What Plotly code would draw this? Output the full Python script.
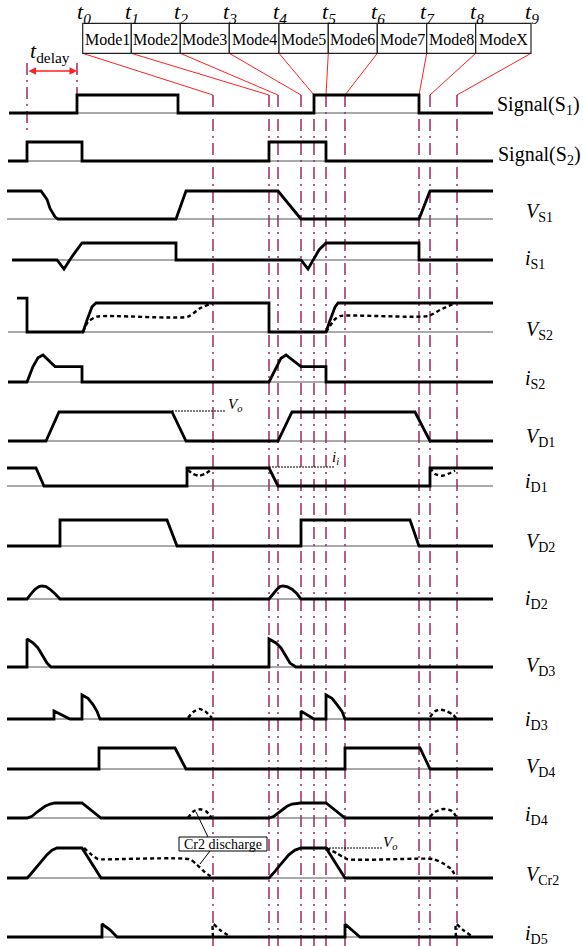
import plotly.graph_objects as go

# ---------------- data ----------------
t_marks = [213, 269, 278, 301, 314, 326, 345, 419, 430, 457]   # t0 ... t9 on the waveform time axis
t_names = ["0", "1", "2", "3", "4", "5", "6", "7", "8", "9"]
mode_names = ["Mode1", "Mode2", "Mode3", "Mode4", "Mode5", "Mode6", "Mode7", "Mode8", "ModeX"]
t_delay = [27, 77]

s1_t = [9, 77, 77, 178, 178, 314, 314, 419, 419, 493]
s1_v = [0, 0, 1, 1, 0, 0, 1, 1, 0, 0]
s2_t = [8, 27, 27, 82, 82, 269, 269, 326, 326, 493]
s2_v = [0, 0, 1, 1, 0, 0, 1, 1, 0, 0]
vs1_t = [7, 41, 47, 50, 55, 58, 176, 186, 278, 301, 419, 430, 493]
vs1_v = [1, 1, 0.7, 0.38, 0.08, 0, 0, 1, 1, 0, 0, 1, 1]
is1_t = [12, 57, 64, 72, 82, 176, 176, 301, 308, 319, 326, 419, 419, 493]
is1_v = [0, 0, -0.53, 0.2, 1, 1, 0, 0, -0.53, 0.59, 1, 1, 0, 0]
vs2_t = [17, 27, 27, 83, 87, 92, 96, 269, 269, 326, 330, 335, 338, 493]
vs2_v = [1.17, 1.17, 0, 0, 0.41, 0.87, 1, 1, 0, 0, 0.4, 0.86, 1, 1]
vs2_d1_t = [83, 88, 97, 188, 200, 213]
vs2_d1_v = [0, 0.35, 0.53, 0.53, 0.82, 1]
vs2_d2_t = [326, 335, 340, 428, 440, 455]
vs2_d2_v = [0, 0.44, 0.55, 0.55, 0.76, 1]
is2_t = [8, 27, 33, 38, 43, 48, 55, 82, 82, 269, 277, 281, 286, 295, 301, 326, 326, 493]
is2_v = [0, 0, 0.57, 0.9, 1, 0.81, 0.57, 0.57, 0, 0, 0.57, 0.88, 1, 0.75, 0.57, 0.57, 0, 0]
vd1_t = [8, 46, 59, 172, 186, 278, 292, 415, 430, 493]
vd1_v = [0, 0, 1, 1, 0, 0, 1, 1, 0, 0]
id1_t = [7, 36, 44, 187, 187, 269, 278, 430, 430, 493]
id1_v = [1, 1, 0, 0, 1, 1, 0, 0, 1, 1]
id1_d1_t = [188, 193, 199, 205, 212]
id1_d1_v = [0.89, 0.67, 0.57, 0.67, 0.94]
id1_d2_t = [430, 435, 442, 448, 455]
id1_d2_v = [1, 0.67, 0.57, 0.67, 0.85]
vd2_t = [7, 60, 60, 167, 177, 301, 301, 410, 419, 493]
vd2_v = [0, 0, 1, 1, 0, 0, 1, 1, 0, 0]
id2_t = [7, 27, 31, 35, 39, 42, 46, 50, 55, 60, 269, 273, 277, 280, 283, 287, 292, 297, 301, 493]
id2_v = [0, 0, 0.4, 0.75, 0.95, 1, 0.95, 0.75, 0.4, 0, 0, 0.4, 0.75, 0.95, 1, 0.95, 0.75, 0.4, 0, 0]
vd3_t = [7, 27, 27, 33, 38, 42, 47, 51, 269, 269, 276, 281, 285, 290, 296, 493]
vd3_v = [0, 0, 1, 0.86, 0.68, 0.44, 0.14, 0, 0, 1, 0.86, 0.68, 0.44, 0.14, 0, 0]
id3_t = [7, 54, 54, 70, 82, 82, 88, 93, 97, 100, 301, 301, 314, 326, 326, 332, 337, 342, 345, 493]
id3_v = [0, 0, 0.33, 0, 0, 1, 0.86, 0.6, 0.32, 0, 0, 0.33, 0, 0, 1, 0.86, 0.6, 0.32, 0, 0]
id3_d1_t = [188, 193, 199, 205, 212]
id3_d1_v = [0.05, 0.28, 0.42, 0.32, 0.05]
id3_d2_t = [430, 435, 440, 447, 453, 457]
id3_d2_v = [0.08, 0.32, 0.39, 0.32, 0.18, 0]
vd4_t = [7, 99, 99, 175, 186, 345, 345, 420, 430, 493]
vd4_v = [0, 0, 1, 1, 0, 0, 1, 1, 0, 0]
id4_t = [7, 27, 32, 37, 45, 50, 55, 82, 101, 269, 274, 280, 287, 292, 297, 301, 326, 345, 493]
id4_v = [0, 0, 0.12, 0.4, 0.78, 0.93, 1, 1, 0, 0, 0.12, 0.4, 0.78, 0.93, 0.99, 1, 1, 0, 0]
id4_d1_t = [188, 193, 200, 206, 212]
id4_d1_v = [0, 0.42, 0.58, 0.45, 0]
id4_d2_t = [430, 435, 443, 452, 457]
id4_d2_v = [0.07, 0.4, 0.6, 0.47, 0]
vcr2_t = [7, 27, 30, 33, 37, 42, 47, 52, 57, 82, 101, 269, 272, 275, 279, 284, 289, 295, 301, 326, 345, 493]
vcr2_v = [0, 0, 0.1, 0.22, 0.39, 0.6, 0.78, 0.93, 1, 1, 0, 0, 0.1, 0.22, 0.39, 0.6, 0.78, 0.93, 1, 1, 0, 0]
vcr2_d1_t = [84, 90, 98, 104, 190, 197, 205, 213]
vcr2_d1_v = [1, 0.82, 0.63, 0.62, 0.62, 0.44, 0.19, 0]
vcr2_d2_t = [326, 337, 347, 433, 443, 452, 456]
vcr2_d2_v = [1, 0.82, 0.63, 0.63, 0.49, 0.27, 0]
id5_t = [7, 102, 102, 110, 117, 345, 345, 352, 360, 493]
id5_v = [0, 0, 1, 0.55, 0, 0, 1, 0.55, 0, 0]
id5_d1_t = [213, 213, 220, 230]
id5_d1_v = [0, 1, 0.54, 0.05]
id5_d2_t = [456, 456, 463, 472]
id5_d2_v = [0, 1, 0.54, 0.05]

# ---------------- layout (positions / styles) ----------------
W, H = 583, 946
SERIF = "Liberation Serif, Times New Roman, serif"
BLACK = "#000000"
DASHV = "#a8336f"
RED = "#ff2020"
mode_edges = [82.7, 131.3, 180.3, 229.3, 279, 328.3, 377.3, 426.7, 475.7, 531]
box_top, box_bot = 23.3, 53.3
line_top = 95
END_X = 493

# rows: (thick, dashed list, baseline_y, amplitude, label, label_x, label_y, baseline_start)
rows = [
    ((s1_t, s1_v), [], 113, 18, "Signal(S<sub>1</sub>)", 495, 105, 9),
    ((s2_t, s2_v), [], 161, 19, "Signal(S<sub>2</sub>)", 496, 155, 8),
    ((vs1_t, vs1_v), [], 219, 28, "<i>V</i><sub>S1</sub>", 524, 212, 7),
    ((is1_t, is1_v), [], 260, 17, "<i>i</i><sub>S1</sub>", 523, 259, 12),
    ((vs2_t, vs2_v), [(vs2_d1_t, vs2_d1_v), (vs2_d2_t, vs2_d2_v)], 332, 29, "<i>V</i><sub>S2</sub>", 524, 330, 8),
    ((is2_t, is2_v), [], 382, 27, "<i>i</i><sub>S2</sub>", 523, 379, 8),
    ((vd1_t, vd1_v), [], 441, 29, "<i>V</i><sub>D1</sub>", 524, 437, 8),
    ((id1_t, id1_v), [(id1_d1_t, id1_d1_v), (id1_d2_t, id1_d2_v)], 486, 18, "<i>i</i><sub>D1</sub>", 523, 482, 7),
    ((vd2_t, vd2_v), [], 546, 26, "<i>V</i><sub>D2</sub>", 524, 542, 7),
    ((id2_t, id2_v), [], 599, 13, "<i>i</i><sub>D2</sub>", 523, 599, 7),
    ((vd3_t, vd3_v), [], 667, 28, "<i>V</i><sub>D3</sub>", 524, 666, 7),
    ((id3_t, id3_v), [(id3_d1_t, id3_d1_v), (id3_d2_t, id3_d2_v)], 719, 24, "<i>i</i><sub>D3</sub>", 523, 720, 7),
    ((vd4_t, vd4_v), [], 769, 21, "<i>V</i><sub>D4</sub>", 524, 767, 7),
    ((id4_t, id4_v), [(id4_d1_t, id4_d1_v), (id4_d2_t, id4_d2_v)], 818, 15, "<i>i</i><sub>D4</sub>", 523, 815, 7),
    ((vcr2_t, vcr2_v), [(vcr2_d1_t, vcr2_d1_v), (vcr2_d2_t, vcr2_d2_v)], 878, 30, "<i>V</i><sub>Cr2</sub>", 524, 875, 7),
    ((id5_t, id5_v), [(id5_d1_t, id5_d1_v), (id5_d2_t, id5_d2_v)], 937, 13, "<i>i</i><sub>D5</sub>", 523, 934, 7),
]

fig = go.Figure()

def add_line(x, y, color=BLACK, width=1, dash="solid", shape="linear", smoothing=1.0):
    fig.add_trace(go.Scatter(x=x, y=y, mode="lines", hoverinfo="skip",
                             line=dict(color=color, width=width, dash=dash, shape=shape,
                                       smoothing=smoothing)))

# vertical dash-dot time markers
DD = "12px,5px,2px,5px"
for t in t_marks:
    add_line([t, t], [line_top, H], color=DASHV, width=1.6, dash=DD)
add_line([t_delay[0]] * 2, [63, 133], color=DASHV, width=1.6, dash=DD)
add_line([t_delay[1]] * 2, [63, 95], color=DASHV, width=1.6, dash=DD)

# red connectors from mode boxes to time markers
for e, t in zip(mode_edges, t_marks):
    add_line([e, t], [box_bot, line_top], color=RED, width=1)

# waveform rows
annotations = []
for (thick, dashed, base, amp, label, lx, ly, x0) in rows:
    add_line([x0, END_X], [base, base], color="#555555", width=1)
    for (dt, dv) in dashed:
        add_line(dt, [base - v * amp for v in dv], width=2.4, dash="4px,3px", shape="spline",
                 smoothing=0.6)
    tt, tv = thick
    add_line(tt, [base - v * amp for v in tv], width=2.8)
    annotations.append(dict(x=lx, y=ly, text=label, showarrow=False, xanchor="left",
                            yanchor="middle", font=dict(family=SERIF, size=20, color=BLACK)))

# mode boxes
shapes = []
for i, name in enumerate(mode_names):
    x0, x1 = mode_edges[i], mode_edges[i + 1]
    shapes.append(dict(type="rect", x0=x0, x1=x1, y0=box_top, y1=box_bot, xref="x", yref="y",
                       line=dict(color="#222222", width=1.2), fillcolor="white", layer="above"))
    annotations.append(dict(x=(x0 + x1) / 2, y=39, text=name, showarrow=False,
                            font=dict(family=SERIF, size=16, color=BLACK)))
for e, n in zip(mode_edges, t_names):
    annotations.append(dict(x=e + 1, y=13, text="<i>t</i><sub><i>" + n + "</i></sub>", showarrow=False,
                            font=dict(family=SERIF, size=22, color=BLACK)))

# t_delay
annotations.append(dict(x=28, y=52, text="<i>t</i><sub>delay</sub>", showarrow=False, xanchor="left",
                        font=dict(family=SERIF, size=22, color=BLACK)))
annotations.append(dict(x=t_delay[1], y=71, ax=t_delay[0], ay=71, axref="x", ayref="y", xref="x", yref="y",
                        text="", showarrow=True, arrowside="end+start", arrowhead=2, arrowsize=1,
                        arrowwidth=1.5, arrowcolor=RED))

# reference levels
add_line([172, 225], [411, 411], width=1, dash="2px,1px")
annotations.append(dict(x=226, y=405, text="<i>V<sub>o</sub></i>", showarrow=False, xanchor="left",
                        font=dict(family=SERIF, size=15, color=BLACK)))
add_line([269, 335], [467, 467], width=1, dash="2px,1px")
annotations.append(dict(x=330, y=458, text="<i>i<sub>i</sub></i>", showarrow=False, xanchor="left",
                        font=dict(family=SERIF, size=15, color=BLACK)))
add_line([326, 383], [848, 848], width=1, dash="2px,1px")
annotations.append(dict(x=381, y=843, text="<i>V<sub>o</sub></i>", showarrow=False, xanchor="left",
                        font=dict(family=SERIF, size=15, color=BLACK)))

# Cr2 discharge callout
add_line([208, 196], [837, 812], width=1)
add_line([210, 200], [851, 864], width=1)
shapes.append(dict(type="rect", x0=179, x1=267, y0=837, y1=851, xref="x", yref="y",
                   line=dict(color=BLACK, width=1), fillcolor="white", layer="above"))
annotations.append(dict(x=223, y=844, text="Cr2 discharge", showarrow=False,
                        font=dict(family=SERIF, size=14, color=BLACK)))

fig.update_layout(
    width=W, height=H, margin=dict(l=0, r=0, t=0, b=0),
    paper_bgcolor="white", plot_bgcolor="white", showlegend=False,
    xaxis=dict(range=[0, W], visible=False, fixedrange=True),
    yaxis=dict(range=[H, 0], visible=False, fixedrange=True),
    shapes=shapes, annotations=annotations,
)
fig.write_html("out.html", config={"displayModeBar": False},
               post_script="document.body.style.margin='0';document.body.style.overflow='hidden';")
